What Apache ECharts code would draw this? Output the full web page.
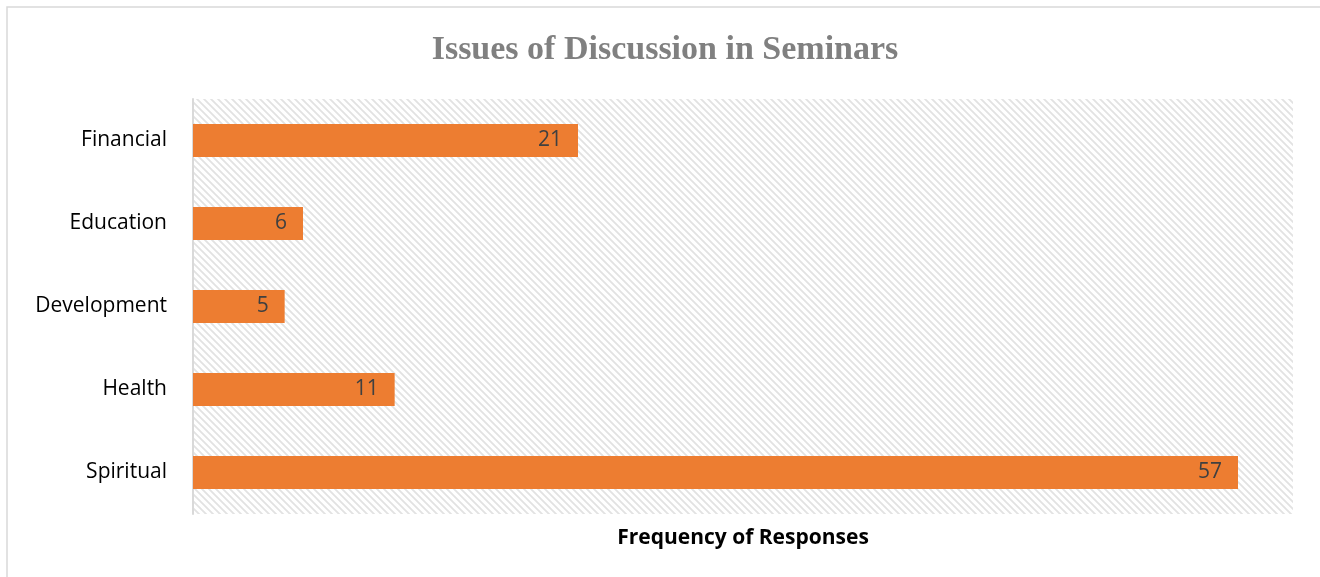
<!DOCTYPE html>
<html><head><meta charset="utf-8">
<script src="https://cdn.jsdelivr.net/npm/echarts@6/dist/echarts.min.js"></script>
<style>html,body{margin:0;padding:0;background:#fff}#c{width:1320px;height:577px}</style>
</head><body><div id="c"></div>
<script>
const categories = ['Spiritual', 'Health', 'Development', 'Education', 'Financial'];
const values = [57, 11, 5, 6, 21];
const titleText = 'Issues of Discussion in Seminars';
const axisName = 'Frequency of Responses';

function hatch() {
  const s = 7;
  const c = document.createElement('canvas');
  c.width = s; c.height = s;
  const g = c.getContext('2d');
  g.fillStyle = '#ffffff'; g.fillRect(0, 0, s, s);
  g.strokeStyle = '#e2e2e2'; g.lineWidth = 1.8;
  g.beginPath();
  g.moveTo(-2, -2); g.lineTo(s + 2, s + 2);
  g.moveTo(-2 - s, -2); g.lineTo(2, s + 2);
  g.moveTo(s - 2, -2); g.lineTo(2 * s + 2, s + 2);
  g.stroke();
  return c;
}

const chart = echarts.init(document.getElementById('c'));
chart.setOption({
  animation: false,
  backgroundColor: '#fff',
  title: {
    text: titleText, left: 660, top: 28, textAlign: 'center',
    textStyle: { fontFamily: 'Liberation Serif', fontWeight: 'bold', fontSize: 34, color: '#808080' }
  },
  graphic: [{
    type: 'rect', shape: { x: 7, y: 7, width: 1340, height: 600 },
    style: { fill: 'none', stroke: '#d9d9d9', lineWidth: 1.5 }, silent: true, z: -1
  }],
  grid: {
    left: 193, right: 27, top: 99, bottom: 63, show: true, borderWidth: 0,
    backgroundColor: { image: hatch(), repeat: 'repeat' }
  },
  xAxis: {
    type: 'value', min: 0, max: 60,
    axisLabel: { show: false }, splitLine: { show: false }, axisLine: { show: false }, axisTick: { show: false },
    name: axisName, nameLocation: 'middle', nameGap: 14,
    nameTextStyle: { fontFamily: 'Open Sans', fontWeight: 'bold', fontSize: 21, color: '#000' }
  },
  yAxis: {
    type: 'category', data: categories,
    axisLine: { show: true, lineStyle: { color: '#d9d9d9', width: 2 } },
    axisTick: { show: false },
    axisLabel: { fontFamily: 'Open Sans', fontSize: 21, color: '#000', margin: 26, padding: [5, 0, 0, 0] }
  },
  series: [{
    type: 'bar', data: values, barCategoryGap: '60%',
    itemStyle: { color: '#ED7D31' },
    label: { show: true, position: 'insideRight', distance: 16, padding: [4, 0, 0, 0], fontFamily: 'Open Sans', fontSize: 21, color: '#404040' }
  }]
});
</script></body></html>
